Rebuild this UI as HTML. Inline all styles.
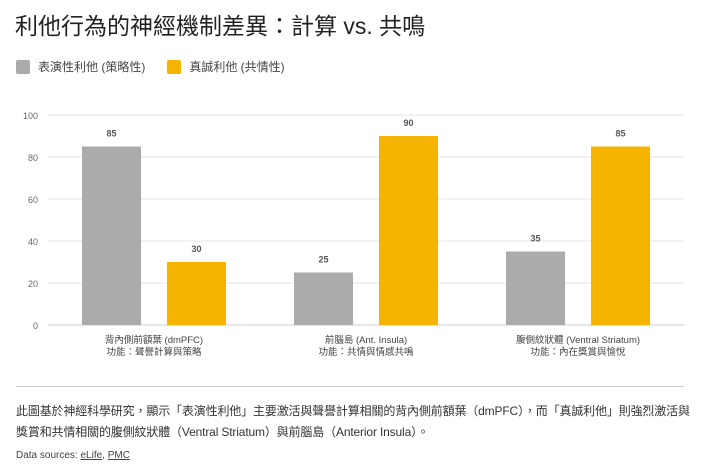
<!DOCTYPE html>
<html><head><meta charset="utf-8">
<style>
body{margin:0;width:707px;height:473px;background:#fff;font-family:"Liberation Sans","Noto Sans CJK TC",sans-serif;color:#222;overflow:hidden;position:relative}
.abs{position:absolute}
</style></head><body>
<div class="abs" style="left:15px;top:7px;font-size:23px;color:#222;white-space:nowrap">利他行為的神經機制差異：計算 vs. 共鳴</div>
<div class="abs" style="left:16px;top:58px;font-size:12px;color:#444;display:flex;align-items:center;white-space:nowrap">
<span style="width:14px;height:14px;background:#ababab;display:inline-block;border-radius:2px"></span>
<span style="margin-left:8px">表演性利他 (策略性)</span>
<span style="width:14px;height:14px;background:#f4b400;display:inline-block;border-radius:2px;margin-left:22px"></span>
<span style="margin-left:8px">真誠利他 (共情性)</span>
</div>
<svg class="abs" style="left:0;top:0" width="707" height="380" id="chart"></svg>
<div class="abs" style="left:16px;top:386px;width:668px;height:1px;background:#ccc"></div>
<div class="abs" style="left:16px;top:401px;width:690px;font-size:12px;line-height:21px;color:#333;letter-spacing:-0.15px">此圖基於神經科學研究，顯示「表演性利他」主要激活與聲譽計算相關的背內側前額葉（dmPFC），而「真誠利他」則強烈激活與<br>獎賞和共情相關的腹側紋狀體（Ventral Striatum）與前腦島（Anterior Insula）。</div>
<div class="abs" style="left:16px;top:450px;font-size:10px;color:#444">Data sources: <a style="color:#444;text-decoration:underline">eLife</a>, <a style="color:#444;text-decoration:underline">PMC</a></div>
<script>
const categories=["背內側前額葉 (dmPFC)","前腦島 (Ant. Insula)","腹側紋狀體 (Ventral Striatum)"];
const functions=["功能：聲譽計算與策略","功能：共情與情感共鳴","功能：內在獎賞與愉悅"];
const performative=[85,25,35];
const genuine=[30,90,85];
const yTicks=[0,20,40,60,80,100];
const NS="http://www.w3.org/2000/svg";
const svg=document.getElementById('chart');
const x0=48,x1=684,yBase=325,yTop=115;
const y=v=>yBase-(v/100)*(yBase-yTop);
const gw=(x1-x0)/categories.length;
function el(t,a,txt){const e=document.createElementNS(NS,t);for(const k in a)e.setAttribute(k,a[k]);if(txt!=null)e.textContent=txt;svg.appendChild(e);return e;}
yTicks.forEach(t=>{
 const l=el('line',{x1:x0,x2:x1,y1:y(t),y2:y(t),stroke:t===0?'#ccc':'#e6e6e6','stroke-width':1});
 
 
 const tx=el('text',{x:38,y:y(t)+4,'text-anchor':'end','font-size':9,fill:'#666'},t);
 
 
});
const bw=59;
categories.forEach((c,i)=>{
 const cx=x0+gw*(i+0.5);
 [[performative[i],'#ababab',cx-bw-13,'bar-performative'],[genuine[i],'#f4b400',cx+13,'bar-genuine']].forEach(([v,col,bx,nm])=>{
  const r=el('rect',{x:bx,y:y(v),width:bw,height:yBase-y(v),fill:col});
  
  
  const t=el('text',{x:bx+bw/2,y:y(v)-10,'text-anchor':'middle','font-size':9,'font-weight':'bold',fill:'#555'},v);
  
  
 });
 const a=el('text',{x:cx,y:343,'text-anchor':'middle','font-size':9.5,fill:'#444'},c);
 
 
 const b=el('text',{x:cx,y:355,'text-anchor':'middle','font-size':9.5,fill:'#444'},functions[i]);
 
 
});
</script>
</body></html>
